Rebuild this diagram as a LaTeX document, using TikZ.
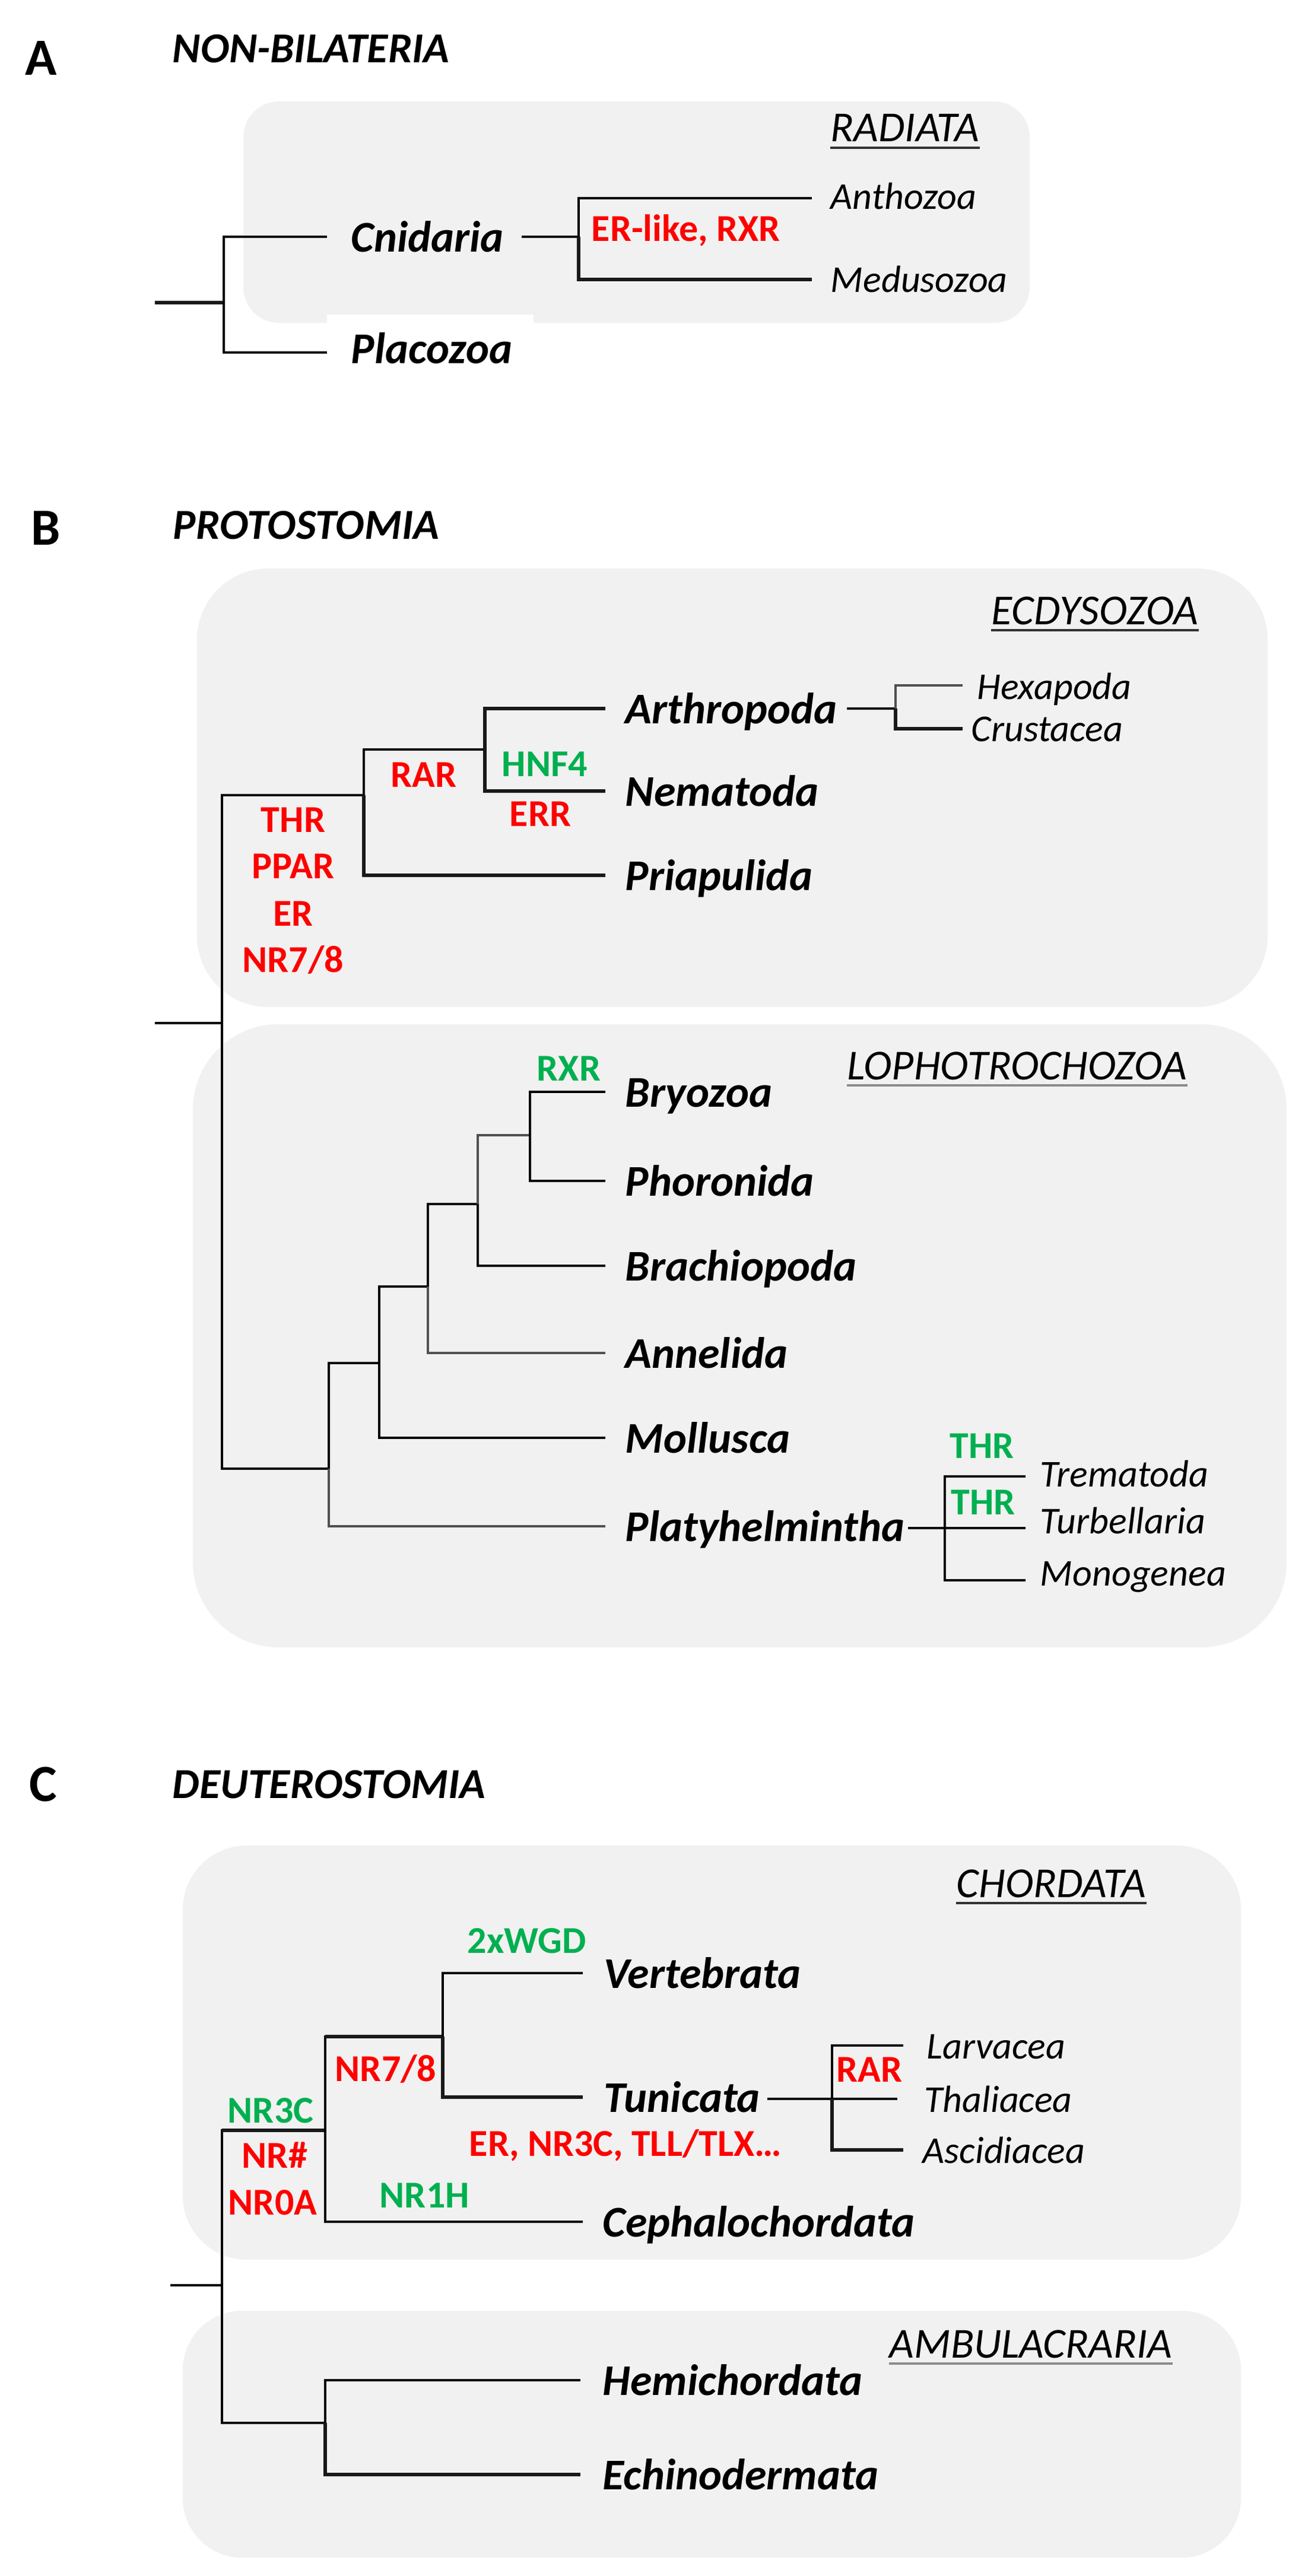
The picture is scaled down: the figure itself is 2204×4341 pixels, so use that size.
\documentclass[tikz,border=0pt]{standalone}
\usepackage{fontspec}
\setmainfont{Carlito}
\definecolor{boxgray}{HTML}{F1F1F1}
\definecolor{gainG}{HTML}{00B050}
\definecolor{lossR}{HTML}{FF0000}
\definecolor{ulgray}{HTML}{8C8C8C}
\definecolor{brgray}{HTML}{505050}
\begin{document}
\begin{tikzpicture}[x=0.25pt,y=-0.25pt,
  br/.style={line width=0.8pt, draw=black},
  brthick/.style={line width=1.4pt, draw=black!90},
  brgr/.style={line width=1.0pt, draw=brgray},
  clade/.style={fill=boxgray},
  taxon/.style={font=\fontsize{18.5pt}{20pt}\selectfont\bfseries\itshape, anchor=base west, inner sep=0pt},
  subtaxon/.style={font=\fontsize{16pt}{18pt}\selectfont\itshape, anchor=base west, inner sep=0pt},
  gainlbl/.style={font=\fontsize{16pt}{18pt}\selectfont\bfseries, text=gainG, anchor=base west, inner sep=0pt},
  losslbl/.style={font=\fontsize{16pt}{18pt}\selectfont\bfseries, text=lossR, anchor=base west, inner sep=0pt},
  grplbl/.style={font=\fontsize{18pt}{20pt}\selectfont\itshape, anchor=base west, inner sep=0pt},
  headlbl/.style={font=\fontsize{18pt}{20pt}\selectfont\bfseries\itshape, anchor=base west, inner sep=0pt},
  panellbl/.style={font=\fontsize{22pt}{24pt}\selectfont\bfseries, anchor=base west, inner sep=0pt},
  uline/.style={line width=1.1pt, draw=black!80},
  ulinegr/.style={line width=1.1pt, draw=ulgray}
]
\useasboundingbox (0,0) rectangle (2204,4341);
\fill[white] (0,0) rectangle (2204,4341);

% ---------------- Panel A ----------------
\node[panellbl] (pA) at (42,126) {A};
\node[headlbl] (hA) at (290,105) {NON-BILATERIA};
\fill[clade, rounded corners=15pt] (410,171) rectangle (1735,544);
\fill[white] (551,530) rectangle (899,552);
\node[grplbl] (gRad) at (1399,238) {RADIATA};
\draw[uline] ([yshift=-2.8pt]gRad.base west) -- ([yshift=-2.8pt]gRad.base east);

\coordinate (Ast) at (261,510);
\coordinate (Ajr) at (377,510);
\coordinate (Acn) at (551,399);
\coordinate (Apl) at (551,594);
\coordinate (Acs) at (879,399);
\coordinate (Acj) at (975,399);
\coordinate (Aan) at (1368,334);
\coordinate (Ame) at (1368,471);
\draw[brthick] (Ast) -- (Ajr);
\draw[br] (Acn) -| (Ajr);
\draw[br] (Apl) -| (Ajr);
\draw[br] (Acs) -- (Acj);
\draw[br] (Aan) -| (Acj);
\draw[brthick] (Ame) -| (Acj);
\node[taxon] (tCn) at (591,424) {Cnidaria};
\node[taxon] (tPl) at (591,612) {Placozoa};
\node[subtaxon] (tAn) at (1399,352) {Anthozoa};
\node[subtaxon] (tMe) at (1399,492) {Medusozoa};
\node[losslbl] (lA1) at (996,406) {ER-like, RXR};

% ---------------- Panel B ----------------
\node[panellbl] (pB) at (52,918) {B};
\node[headlbl] (hB) at (291,908) {PROTOSTOMIA};
\fill[clade, rounded corners=30pt] (332,958) rectangle (2136,1697);
\fill[clade, rounded corners=36pt] (325,1726) rectangle (2168,2776);
\node[grplbl] (gEc) at (1670,1052) {ECDYSOZOA};
\draw[uline] ([yshift=-2.5pt]gEc.base west) -- ([yshift=-2.5pt]gEc.base east);
\node[grplbl] (gLo) at (1427,1819) {LOPHOTROCHOZOA};
\draw[ulinegr] ([yshift=-2.5pt]gLo.base west) -- ([yshift=-2.5pt]gLo.base east);

\coordinate (Bst) at (261,1724);
\coordinate (Bjr) at (374,1724);
\coordinate (Bej) at (613,1340);
\coordinate (Baj) at (817,1263);
\coordinate (Bar) at (1020,1194);
\coordinate (Bne) at (1020,1333);
\coordinate (Bpr) at (1020,1475);
\coordinate (Bas) at (1427,1194);
\coordinate (Basj) at (1509,1194);
\coordinate (Bhe) at (1622,1155);
\coordinate (Bcr) at (1622,1228);
\draw[br] (Bst) -- (Bjr);
\draw[br] (Bej) -| (Bjr);
\draw[br] (Baj) -| (Bej);
\draw[brthick] (Bpr) -| (Bej);
\draw[brthick] (Bar) -| (Baj);
\draw[brthick] (Bne) -| (Baj);
\draw[br] (Bas) -- (Basj);
\draw[brgr] (Bhe) -| (Basj);
\draw[brthick] (Bcr) -| (Basj);

\coordinate (Llj) at (554,2475);
\coordinate (Lj2) at (639,2297);
\coordinate (Lj3) at (721,2168);
\coordinate (Lj4) at (805,2029);
\coordinate (Lj5) at (893,1913);
\coordinate (Lbr) at (1020,1840);
\coordinate (Lph) at (1020,1990);
\coordinate (Lbc) at (1020,2133);
\coordinate (Lan) at (1020,2280);
\coordinate (Lmo) at (1020,2423);
\coordinate (Lpl) at (1020,2572);
\coordinate (Lps) at (1530,2575);
\coordinate (Lpj) at (1592,2575);
\coordinate (Ltr) at (1728,2488);
\coordinate (Ltu) at (1728,2575);
\coordinate (Lmg) at (1728,2663);
\draw[br] (Llj) -| (Bjr);
\draw[br] (Lj2) -| (Llj);
\draw[brgr] (Lpl) -| (Llj);
\draw[br] (Lj3) -| (Lj2);
\draw[br] (Lmo) -| (Lj2);
\draw[br] (Lj4) -| (Lj3);
\draw[brgr] (Lan) -| (Lj3);
\draw[brgr] (Lj5) -| (Lj4);
\draw[br] (Lbc) -| (Lj4);
\draw[br] (Lbr) -| (Lj5);
\draw[br] (Lph) -| (Lj5);
\draw[br] (Lps) -- (Ltu);
\draw[br] (Ltr) -| (Lpj);
\draw[br] (Lmg) -| (Lpj);

\node[taxon] (tAr) at (1053,1219) {Arthropoda};
\node[taxon] (tNe) at (1053,1358) {Nematoda};
\node[taxon] (tPr) at (1053,1500) {Priapulida};
\node[subtaxon] (tHe) at (1646,1178) {Hexapoda};
\node[subtaxon] (tCr) at (1636,1249) {Crustacea};
\node[losslbl] (lRAR) at (658,1326) {RAR};
\node[gainlbl] (gHNF) at (845,1308) {HNF4};
\node[losslbl] (lERR) at (858,1392) {ERR};
\node[losslbl, anchor=base] (lTHR) at (494,1402) {THR};
\node[losslbl, anchor=base] (lPPAR) at (494,1480) {PPAR};
\node[losslbl, anchor=base] (lER) at (494,1560) {ER};
\node[losslbl, anchor=base] (lNR78) at (494,1638) {NR7/8};

\node[taxon] (tBr) at (1053,1865) {Bryozoa};
\node[taxon] (tPh) at (1053,2015) {Phoronida};
\node[taxon] (tBc) at (1053,2158) {Brachiopoda};
\node[taxon] (tAn2) at (1053,2305) {Annelida};
\node[taxon] (tMo) at (1053,2448) {Mollusca};
\node[taxon] (tPl2) at (1053,2597) {Platyhelmintha};
\node[subtaxon] (tTr) at (1752,2505) {Trematoda};
\node[subtaxon] (tTu) at (1752,2584) {Turbellaria};
\node[subtaxon] (tMg) at (1752,2672) {Monogenea};
\node[gainlbl] (gRXR) at (904,1821) {RXR};
\node[gainlbl] (gTHR1) at (1600,2457) {THR};
\node[gainlbl] (gTHR2) at (1602,2552) {THR};

% ---------------- Panel C ----------------
\node[panellbl] (pC) at (49,3035) {C};
\node[headlbl] (hC) at (290,3030) {DEUTEROSTOMIA};
\fill[clade, rounded corners=27pt] (308,3110) rectangle (2091,3808);
\fill[clade, rounded corners=25pt] (308,3894) rectangle (2091,4310);
\node[grplbl] (gCh) at (1611,3197) {CHORDATA};
\draw[uline] ([yshift=-2.5pt]gCh.base west) -- ([yshift=-2.5pt]gCh.base east);
\node[grplbl] (gAm) at (1498,3973) {AMBULACRARIA};
\draw[ulinegr] ([yshift=-2.5pt]gAm.base west) -- ([yshift=-2.5pt]gAm.base east);

\coordinate (Cst) at (287,3851);
\coordinate (Cjr) at (374,3851);
\coordinate (Ccj) at (548,3590);
\coordinate (Coj) at (746,3432);
\coordinate (Cve) at (982,3325);
\coordinate (Ctu) at (982,3534);
\coordinate (Cce) at (982,3744);
\coordinate (Cts) at (1293,3537);
\coordinate (Ctj) at (1402,3537);
\coordinate (Cth) at (1512,3537);
\coordinate (Cla) at (1522,3447);
\coordinate (Cas) at (1522,3623);
\coordinate (Caj) at (548,4083);
\coordinate (Che) at (978,4011);
\coordinate (Cec) at (978,4170);
\draw[br] (Cst) -- (Cjr);
\draw[br] (Ccj) -| (Cjr);
\draw[brthick] (Ccj) -- (Ccj -| Cjr);
\draw[br] (Caj) -| (Cjr);
\draw[br] (Coj) -| (Ccj);
\draw[brthick] (Coj) -- (Coj -| Ccj);
\draw[br] (Cce) -| (Ccj);
\draw[br] (Cve) -| (Coj);
\draw[brthick] (Ctu) -| (Coj);
\draw[br] (Cts) -- (Cth);
\draw[br] (Cla) -| (Ctj);
\draw[brthick] (Cas) -| (Ctj);
\draw[br] (Che) -| (Caj);
\draw[brthick] (Cec) -| (Caj);

\node[taxon] (tVe) at (1017,3350) {Vertebrata};
\node[taxon] (tTu2) at (1017,3559) {Tunicata};
\node[taxon] (tCe) at (1015,3769) {Cephalochordata};
\node[taxon] (tHe2) at (1015,4036) {Hemichordata};
\node[taxon] (tEc) at (1015,4195) {Echinodermata};
\node[subtaxon] (tLa) at (1561,3469) {Larvacea};
\node[subtaxon] (tTh) at (1557,3559) {Thaliacea};
\node[subtaxon] (tAs) at (1554,3645) {Ascidiacea};
\node[gainlbl] (gWGD) at (787,3291) {2xWGD};
\node[losslbl] (lRAR2) at (1409,3508) {RAR};
\node[losslbl] (lNR78b) at (564,3507) {NR7/8};
\node[losslbl] (lERC) at (790,3633) {ER, NR3C, TLL/TLX…};
\node[gainlbl] (gNR1H) at (639,3720) {NR1H};
\node[gainlbl] (gNR3C) at (383,3577) {NR3C};
\node[losslbl] (lNRh) at (407,3653) {NR\#};
\node[losslbl] (lNR0A) at (384,3732) {NR0A};
\end{tikzpicture}
\end{document}
